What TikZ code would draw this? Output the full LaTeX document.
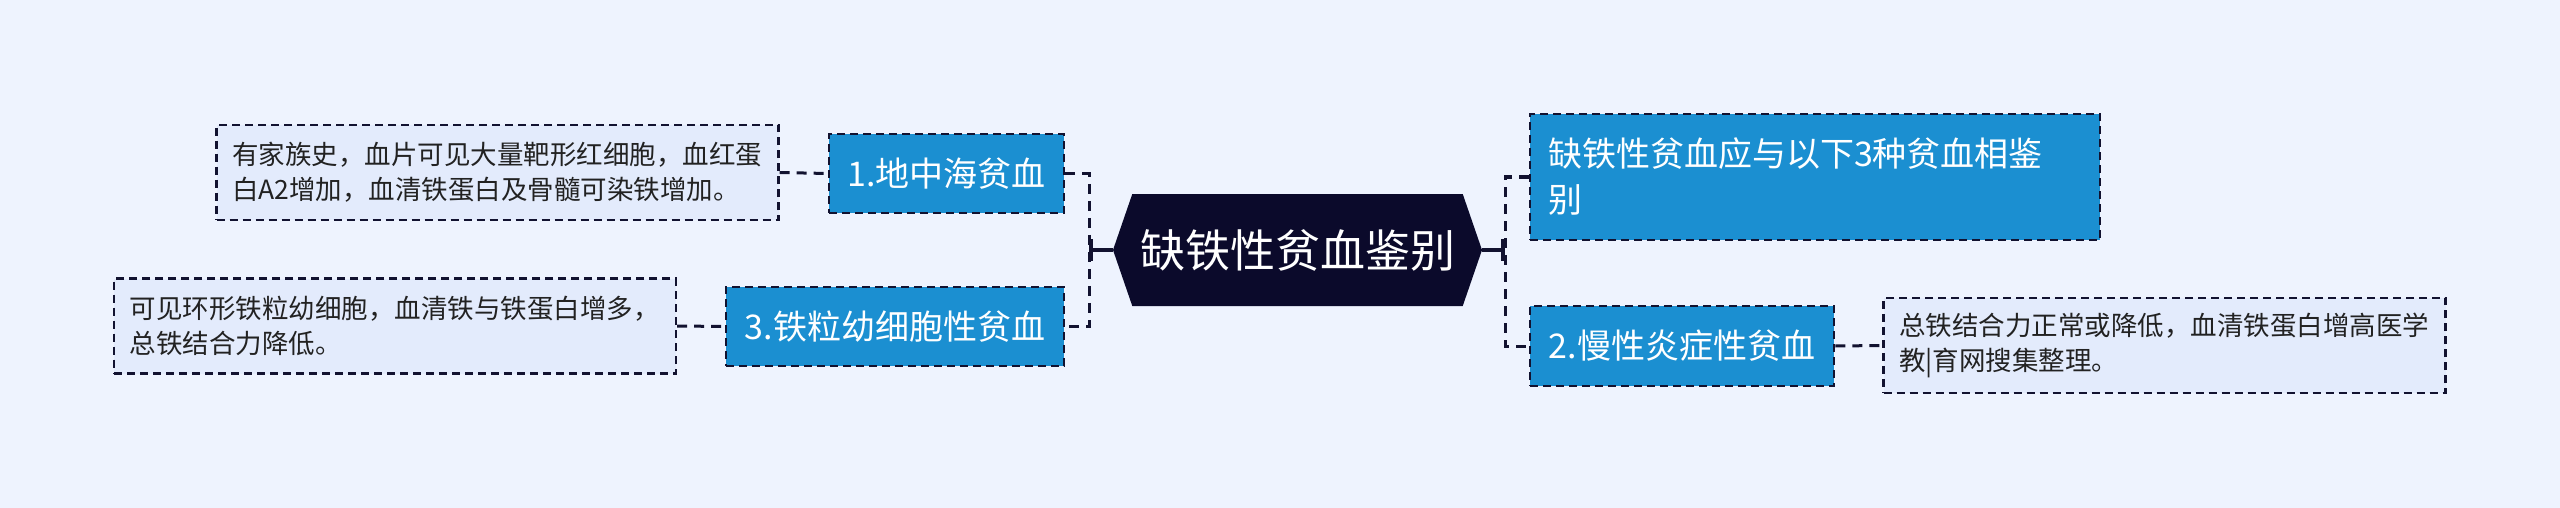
\documentclass[tikz,border=0pt]{standalone}
\usepackage{fontspec}
\newfontfamily\cjk{Noto Sans CJK SC}
\usepackage{tikz}
\usetikzlibrary{arrows.meta, shapes.symbols}
\definecolor{MapBack}{HTML}{EEF3FE}
\definecolor{MapNavy}{HTML}{0B0A2B}
\definecolor{MapBlue}{HTML}{1B8FD1}
\definecolor{MapNote}{HTML}{E3EBFC}
\definecolor{MapLine}{HTML}{121230}
\definecolor{MapText}{HTML}{222222}

\begin{document}
\begin{tikzpicture}[
    x=1pt, y=-1pt,
    root/.style={signal, signal to=west and east, signal pointer angle=142, fill=MapNavy, text=white, minimum width=369pt, minimum height=112pt, inner sep=0pt, font=\cjk\fontsize{45}{54}\selectfont},
    topic/.style={draw=MapLine, fill=MapBlue, text=white, dash pattern=on 8pt off 5pt, line width=2.5pt, minimum height=79pt, inner xsep=16pt, align=left, font=\cjk\fontsize{34}{46}\selectfont},
    note/.style={draw=MapLine, fill=MapNote, text=MapText, dash pattern=on 8pt off 5pt, line width=2.2pt, minimum width=562pt, minimum height=95pt, text width=531pt, inner xsep=15pt, align=left, font=\cjk\fontsize{26.5}{35}\selectfont},
    link/.style={MapLine, line width=3pt, dash pattern=on 10pt off 7pt},
    stem/.style={MapLine, line width=4pt, -{Bar[width=22pt]}}
]
    \fill[MapBack] (0,0) rectangle (2560,508);
    \useasboundingbox (0,0) rectangle (2560,508);

    \node[root] (root) at (1297.5,250) {缺铁性贫血鉴别};

    \node[topic, minimum width=235pt] (thal) at (946.5,173.5) {1.地中海贫血};
    \node[topic, minimum width=338pt] (sider) at (895,326.5) {3.铁粒幼细胞性贫血};
    \node[topic, minimum width=570pt, minimum height=126pt, text width=534pt, inner xsep=18pt] (intro) at (1815,177) {缺铁性贫血应与以下3种贫血相鉴\\别};
    \node[topic, minimum width=304pt, minimum height=80pt] (chron) at (1682,346) {2.慢性炎症性贫血};

    \node[note] (thalnote) at (497.5,172.5) {有家族史，血片可见大量靶形红细胞，血红蛋\\白A2增加，血清铁蛋白及骨髓可染铁增加。};
    \node[note] (sidernote) at (395,326) {可见环形铁粒幼细胞，血清铁与铁蛋白增多，\\总铁结合力降低。};
    \node[note] (chronnote) at (2164.5,345.5) {总铁结合力正常或降低，血清铁蛋白增高医学\\教|育网搜集整理。};

    \coordinate (lbus) at (1089,250);
    \coordinate (rbus) at (1505,250);

    \draw[stem] (root.west) -- (lbus);
    \draw[stem] (root.east) -- (rbus);
    \draw[link] (thal.east) -| (lbus) |- (sider.east);
    \draw[link] (intro.west) -| (rbus) |- (chron.west);
    \draw[link] (thalnote.east) -- (thal.west);
    \draw[link] (sidernote.east) -- (sider.west);
    \draw[link] (chron.east) -- (chronnote.west);
\end{tikzpicture}
\end{document}
